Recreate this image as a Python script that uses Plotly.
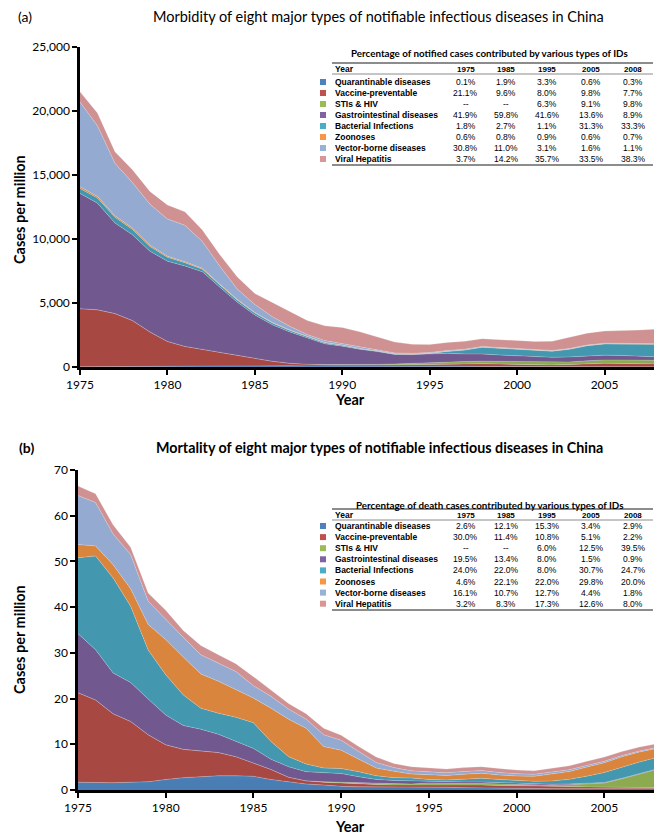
import plotly.graph_objects as go

W, H = 662, 835
# the page body has an 8px margin; shrink the figure so it fills the window exactly
OFF = 8
FW, FH = W - OFF, H - OFF

years = list(range(1975, 2009))

diseases = ["Quarantinable diseases", "Vaccine-preventable", "STIs & HIV", "Gastrointestinal diseases",
            "Bacterial Infections", "Zoonoses", "Vector-borne diseases", "Viral Hepatitis"]
area_colors = ['#4a7db4', '#a84842', '#8caa50', '#71588f', '#4397af', '#da853e', '#95aad0', '#cf9191']
key_colors = ['#4f81bd', '#c0504d', '#9bbb59', '#8064a2', '#4bacc6', '#f79646', '#95b3d7', '#d99694']

#==================== (a) morbidity, cases per million ====================#
quar_a = [20, 20, 25, 30, 40, 50, 60, 70, 80, 90,
          110, 100, 90, 80, 70, 60, 55, 55, 55, 57,
          57, 55, 50, 45, 40, 35, 30, 25, 20, 18,
          17, 15, 12, 9]
vacc_a = [4540, 4450, 4150, 3600, 2700, 1950, 1550, 1300, 1050, 800,
          550, 350, 200, 130, 100, 90, 90, 100, 110, 120,
          140, 170, 200, 210, 190, 170, 150, 140, 170, 240,
          275, 260, 240, 227]
sti_a = [0, 0, 0, 0, 0, 0, 0, 0, 0, 0,
         0, 0, 0, 0, 20, 30, 40, 50, 70, 90,
         110, 140, 170, 200, 210, 210, 200, 190, 200, 230,
         255, 270, 280, 290]
gastro_a = [9000, 8330, 7070, 6700, 6300, 6270, 6280, 6070, 5100, 4170,
            3400, 2850, 2450, 2040, 1620, 1450, 1200, 1000, 750, 700,
            730, 700, 600, 560, 500, 460, 440, 400, 400, 390,
            380, 350, 300, 263]
bact_a = [390, 400, 450, 420, 380, 300, 250, 200, 180, 160,
          155, 140, 120, 100, 80, 60, 50, 40, 30, 25,
          20, 150, 300, 520, 520, 500, 470, 480, 600, 780,
          875, 900, 950, 980]
zoo_a = [130, 130, 120, 110, 100, 90, 80, 70, 60, 55,
         46, 40, 35, 30, 25, 22, 20, 18, 17, 16,
         16, 16, 16, 16, 16, 16, 16, 16, 16, 16,
         17, 18, 19, 21]
vector_a = [6620, 5510, 4100, 3550, 3200, 2900, 2850, 2100, 1400, 800,
            630, 450, 280, 150, 150, 120, 100, 80, 70, 60,
            54, 55, 55, 55, 50, 50, 45, 45, 45, 45,
            45, 40, 35, 32]
hep_a = [800, 1000, 900, 1000, 1000, 1100, 1050, 900, 900, 950,
         850, 1100, 1100, 1100, 1150, 1250, 1200, 1000, 850, 700,
         630, 630, 620, 600, 620, 640, 650, 720, 850, 920,
         940, 980, 1050, 1130]

#==================== (b) mortality, cases per million ====================#
quar_b = [1.7, 1.6, 1.6, 1.7, 1.8, 2.3, 2.7, 2.9, 3.1, 3.1,
          3.0, 2.3, 1.8, 1.3, 1.1, 0.8, 0.7, 0.7, 0.7, 0.7,
          0.73, 0.6, 0.5, 0.5, 0.45, 0.4, 0.35, 0.3, 0.3, 0.28,
          0.25, 0.25, 0.27, 0.3]
vacc_b = [19.6, 18.1, 15.1, 13.3, 10.3, 7.6, 6.2, 5.7, 5.1, 4.2,
          2.9, 2.2, 1.0, 0.7, 0.6, 0.7, 0.6, 0.5, 0.4, 0.4,
          0.52, 0.55, 0.6, 0.6, 0.55, 0.5, 0.45, 0.45, 0.45, 0.4,
          0.37, 0.3, 0.25, 0.22]
sti_b = [0, 0, 0, 0, 0, 0, 0, 0, 0, 0,
         0, 0, 0, 0, 0.1, 0.2, 0.2, 0.2, 0.2, 0.2,
         0.29, 0.28, 0.3, 0.3, 0.3, 0.3, 0.3, 0.3, 0.4, 0.6,
         0.9, 1.9, 3.0, 4.0]
gastro_b = [12.9, 11.0, 8.9, 8.5, 7.8, 6.5, 5.2, 4.7, 4.0, 3.3,
            3.2, 2.2, 2.3, 2.0, 2.0, 1.9, 1.4, 0.9, 0.8, 0.7,
            0.38, 0.35, 0.35, 0.35, 0.3, 0.25, 0.2, 0.2, 0.18, 0.15,
            0.11, 0.1, 0.1, 0.09]
bact_b = [16.6, 20.5, 20.8, 16.7, 10.7, 8.8, 6.7, 4.6, 4.6, 5.3,
          5.6, 3.9, 2.2, 1.7, 1.0, 1.1, 1.1, 0.8, 0.6, 0.6,
          0.38, 0.4, 0.6, 0.8, 0.7, 0.6, 0.6, 0.7, 1.0, 1.6,
          2.2, 2.4, 2.5, 2.5]
zoo_b = [2.9, 2.2, 2.9, 3.8, 5.6, 7.7, 8.3, 7.5, 7.0, 6.0,
         5.4, 7.3, 8.2, 7.8, 4.7, 4.0, 2.7, 1.7, 1.4, 0.9,
         1.06, 1.0, 1.1, 1.1, 1.0, 1.0, 1.1, 1.5, 1.7, 2.0,
         2.15, 2.3, 2.2, 2.0]
vector_b = [10.7, 9.5, 6.7, 7.5, 5.1, 4.4, 4.3, 4.2, 4.0, 4.0,
            2.7, 2.6, 2.2, 2.0, 2.6, 2.2, 1.7, 1.2, 0.8, 0.7,
            0.61, 0.6, 0.6, 0.6, 0.55, 0.5, 0.45, 0.45, 0.4, 0.35,
            0.32, 0.28, 0.22, 0.18]
hep_b = [2.1, 1.9, 2.0, 1.6, 1.8, 2.0, 1.5, 2.0, 1.8, 1.7,
         2.0, 1.3, 1.2, 1.2, 1.4, 1.1, 1.1, 1.2, 0.9, 0.9,
         0.83, 0.8, 0.85, 0.85, 0.85, 0.8, 0.75, 0.8, 0.85, 0.9,
         0.91, 0.88, 0.85, 0.82]

#==================== inset tables ====================#
table_years = ["1975", "1985", "1995", "2005", "2008"]
pct_cases = [["0.1%", "1.9%", "3.3%", "0.6%", "0.3%"],
             ["21.1%", "9.6%", "8.0%", "9.8%", "7.7%"],
             ["--", "--", "6.3%", "9.1%", "9.8%"],
             ["41.9%", "59.8%", "41.6%", "13.6%", "8.9%"],
             ["1.8%", "2.7%", "1.1%", "31.3%", "33.3%"],
             ["0.6%", "0.8%", "0.9%", "0.6%", "0.7%"],
             ["30.8%", "11.0%", "3.1%", "1.6%", "1.1%"],
             ["3.7%", "14.2%", "35.7%", "33.5%", "38.3%"]]
pct_deaths = [["2.6%", "12.1%", "15.3%", "3.4%", "2.9%"],
              ["30.0%", "11.4%", "10.8%", "5.1%", "2.2%"],
              ["--", "--", "6.0%", "12.5%", "39.5%"],
              ["19.5%", "13.4%", "8.0%", "1.5%", "0.9%"],
              ["24.0%", "22.0%", "8.0%", "30.7%", "24.7%"],
              ["4.6%", "22.1%", "22.0%", "29.8%", "20.0%"],
              ["16.1%", "10.7%", "12.7%", "4.4%", "1.8%"],
              ["3.2%", "8.3%", "17.3%", "12.6%", "8.0%"]]

series_a = [quar_a, vacc_a, sti_a, gastro_a, bact_a, zoo_a, vector_a, hep_a]
series_b = [quar_b, vacc_b, sti_b, gastro_b, bact_b, zoo_b, vector_b, hep_b]

CAL = "Lato, 'Open Sans', sans-serif"
ARIAL = "'Liberation Sans', Arial, sans-serif"


def px(x):
    return (x - OFF) / FW


def py(y):
    return 1 - (y - OFF) / FH


fig = go.Figure()

for xa, ya, series, grp in [("x", "y", series_a, "a"), ("x2", "y2", series_b, "b")]:
    for name, vals, col in zip(diseases, series, area_colors):
        fig.add_trace(go.Scatter(x=years, y=vals, name=name, stackgroup=grp, mode="lines",
                                 line=dict(width=0.6, color="rgba(255,255,255,0.35)"),
                                 fillcolor=col, xaxis=xa, yaxis=ya, showlegend=False))

axis_common = dict(showline=True, linecolor="black", linewidth=2.5, ticks="outside", tickwidth=2,
                   ticklen=5, tickcolor="black", showgrid=False, zeroline=False, automargin=False,
                   tickfont=dict(family=CAL, size=12, color="black"))

fig.update_layout(
    width=FW, height=FH, margin=dict(l=0, r=0, t=0, b=0, pad=0),
    plot_bgcolor="white", paper_bgcolor="white",
    xaxis=dict(domain=[px(80), px(657)], anchor="y", range=[1975, 2008],
               tickvals=[1975, 1980, 1985, 1990, 1995, 2000, 2005], **axis_common),
    yaxis=dict(domain=[py(367), py(47)], anchor="x", range=[0, 25000], dtick=5000,
               tickformat=",d", **axis_common),
    xaxis2=dict(domain=[px(78), px(657)], anchor="y2", range=[1975, 2008],
                tickvals=[1975, 1980, 1985, 1990, 1995, 2000, 2005], **axis_common),
    yaxis2=dict(domain=[py(790), py(470)], anchor="x2", range=[0, 70], dtick=10,
                **axis_common),
)

ann = []
shapes = []


def text(x, y, s, size, family=CAL, bold=False, xanchor="center", angle=0):
    ann.append(dict(x=px(x), y=py(y), xref="paper", yref="paper", text=f"<b>{s}</b>" if bold else s,
                    showarrow=False, xanchor=xanchor, yanchor="middle", textangle=angle, borderpad=0,
                    font=dict(family=family, size=size, color="black")))


# titles and axis labels
text(25, 17, "(a)", 14)
text(378, 16, "Morbidity of eight major types of notifiable infectious diseases in China", 14.5)
text(26, 447, "<b>(b)</b>", 14)
text(379, 447, "Mortality of eight major types of notifiable infectious diseases in China", 14.3, bold=True)
text(19, 210, "Cases per million", 14.5, bold=True, angle=-90)
text(19, 640, "Cases per million", 14.5, bold=True, angle=-90)
text(350, 399, "Year", 14.5, bold=True)
text(350, 826, "Year", 14.5, bold=True)

col_x = [466, 506, 547, 591, 633]


def add_table(title, rows, y_title, y_top, y_head, y_line, y_row0, step, y_bottom):
    text(490, y_title, title, 9.8, bold=True)
    for y, w in [(y_top, 2), (y_line, 1), (y_bottom, 2)]:
        shapes.append(dict(type="line", xref="paper", yref="paper", x0=px(332), x1=px(653),
                           y0=py(y), y1=py(y), line=dict(color="#8c8c8c", width=w)))
    text(334, y_head, "Year", 8.5, family=ARIAL, bold=True, xanchor="left")
    for cx, yr in zip(col_x, table_years):
        text(cx, y_head, yr, 8, family=ARIAL, bold=True)
    for i, (name, vals) in enumerate(zip(diseases, rows)):
        yy = y_row0 + i * step
        shapes.append(dict(type="rect", xref="paper", yref="paper", x0=px(320), x1=px(326),
                           y0=py(yy + 3), y1=py(yy - 3), fillcolor=key_colors[i], line=dict(width=0)))
        text(334, yy, name, 8.5, family=ARIAL, bold=True, xanchor="left")
        for cx, v in zip(col_x, vals):
            text(cx, yy, v, 8.5, family=ARIAL)


add_table("Percentage of notified cases contributed by various types of IDs", pct_cases,
          53, 63, 69, 74, 82, 11.0, 165)
add_table("Percentage of death cases contributed by various types of IDs", pct_deaths,
          505, 509, 515, 520, 526, 11.1, 610)

fig.update_layout(annotations=ann, shapes=shapes)

fig.write_html("out.html")
